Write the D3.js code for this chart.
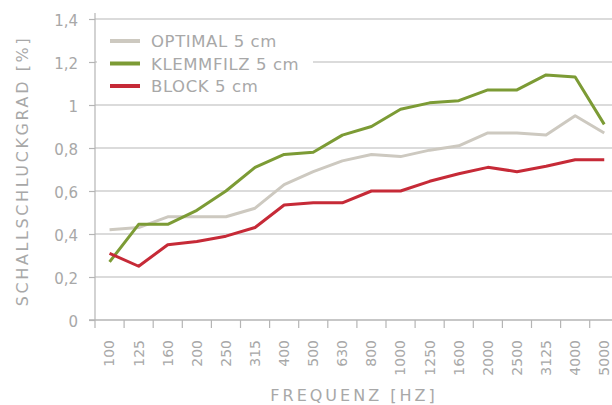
<!DOCTYPE html>
<html>
<head>
<meta charset="utf-8">
<script src="https://cdn.jsdelivr.net/npm/d3@7"></script>
<style>
  body { margin: 0; background: #fff; }
  text { font-family: "DejaVu Sans", "Open Sans", sans-serif; fill: #a8a8a8; }
</style>
</head>
<body>
<div id="chart"></div>
<script>
// frequency bands (Hz)
const frequencies = ["100","125","160","200","250","315","400","500","630","800","1000","1250","1600","2000","2500","3125","4000","5000"];
const optimal   = [0.42,0.43,0.48,0.48,0.48,0.52,0.63,0.69,0.74,0.77,0.76,0.79,0.81,0.87,0.87,0.86,0.95,0.87];
const klemmfilz = [0.27,0.445,0.445,0.51,0.60,0.71,0.77,0.78,0.86,0.90,0.98,1.01,1.02,1.07,1.07,1.14,1.13,0.91];
const block     = [0.31,0.25,0.35,0.365,0.39,0.43,0.535,0.545,0.545,0.60,0.60,0.645,0.68,0.71,0.69,0.715,0.745,0.745];
const yTicks = [0,0.2,0.4,0.6,0.8,1,1.2,1.4];
const seriesNames = ["OPTIMAL 5 cm","KLEMMFILZ 5 cm","BLOCK 5 cm"];

const W = 612, H = 405;
const LEFT = 95, BAND = 29.1;
const colors = ["#cdc9c0","#7c9b35","#c62a37"];

const svg = d3.select("#chart").append("svg")
  .attr("width", W).attr("height", H);

const x = d3.scaleBand()
  .domain(frequencies)
  .range([LEFT, LEFT + BAND * frequencies.length])
  .padding(0);

const y = d3.scaleLinear()
  .domain([0, 1.4])
  .range([320, 19]);

const fmt = d3.formatLocale({decimal: ",", thousands: ".", grouping: [3], currency: ["", ""]}).format("~g");

// gridlines
svg.append("g").selectAll("line")
  .data(yTicks.filter(d => d > 0))
  .enter().append("line")
  .attr("x1", LEFT).attr("x2", W)
  .attr("y1", d => y(d)).attr("y2", d => y(d))
  .attr("stroke", "#cfcfcf").attr("stroke-width", 1.3);

// y axis
const yAxis = svg.append("g")
  .attr("transform", `translate(${LEFT},0)`)
  .call(d3.axisLeft(y).tickValues(yTicks).tickFormat(fmt).tickSize(6).tickPadding(11));
yAxis.select(".domain").remove();
yAxis.selectAll(".tick line").attr("stroke", "#b5b5b5").attr("stroke-width", 1.2);
yAxis.selectAll(".tick text").style("font-size", "15px").attr("fill", "#a8a8a8").attr("dy", "0.4em");
svg.append("line")
  .attr("x1", LEFT).attr("x2", LEFT)
  .attr("y1", 13).attr("y2", 328)
  .attr("stroke", "#b5b5b5").attr("stroke-width", 1.2);

// x axis
svg.append("line")
  .attr("x1", LEFT - 6).attr("x2", W)
  .attr("y1", y(0)).attr("y2", y(0))
  .attr("stroke", "#b5b5b5").attr("stroke-width", 1.3);

svg.append("g").selectAll("line")
  .data(frequencies.slice(1))
  .enter().append("line")
  .attr("x1", d => x(d)).attr("x2", d => x(d))
  .attr("y1", y(0)).attr("y2", y(0) + 8)
  .attr("stroke", "#b5b5b5").attr("stroke-width", 1.2);

const xAxis = svg.append("g")
  .attr("transform", `translate(0,${y(0)})`)
  .call(d3.axisBottom(x).tickSize(0));
xAxis.select(".domain").remove();
xAxis.selectAll(".tick text")
  .style("font-size", "14px")
  .attr("fill", "#a8a8a8")
  .attr("text-anchor", "end")
  .attr("transform", "rotate(-90)")
  .attr("x", -20).attr("y", 0).attr("dy", "0.35em");

// axis titles
svg.append("text")
  .attr("x", 354).attr("y", 401)
  .attr("text-anchor", "middle")
  .style("font-size", "16px")
  .style("letter-spacing", "3px")
  .text("FREQUENZ [HZ]");

svg.append("text")
  .attr("transform", "translate(28,171) rotate(-90)")
  .attr("text-anchor", "middle")
  .style("font-size", "16px")
  .style("letter-spacing", "2.6px")
  .text("SCHALLSCHLUCKGRAD [%]");

// lines
const line = d3.line()
  .x((d, i) => x(frequencies[i]) + x.bandwidth() / 2)
  .y(d => y(d));

[optimal, klemmfilz, block].forEach((s, k) => {
  svg.append("path")
    .datum(s)
    .attr("fill", "none")
    .attr("stroke", colors[k])
    .attr("stroke-width", 3)
    .attr("stroke-linejoin", "round")
    .attr("d", line);
});

// legend
const legend = svg.append("g").attr("class", "legend");
legend.append("rect")
  .attr("x", LEFT + 2).attr("y", 28)
  .attr("width", 216).attr("height", 68)
  .attr("fill", "#fff");
legend.selectAll("line.key")
  .data(seriesNames)
  .enter().append("line")
  .attr("class", "key")
  .attr("x1", 110).attr("x2", 140)
  .attr("y1", (d, i) => 41 + i * 22.5).attr("y2", (d, i) => 41 + i * 22.5)
  .attr("stroke", (d, i) => colors[i])
  .attr("stroke-width", 4);
legend.selectAll("text")
  .data(seriesNames)
  .enter().append("text")
  .attr("x", 151)
  .attr("y", (d, i) => 47 + i * 22.5)
  .style("font-size", "16.5px")
  .style("letter-spacing", "0.6px")
  .text(d => d);
</script>
</body>
</html>
